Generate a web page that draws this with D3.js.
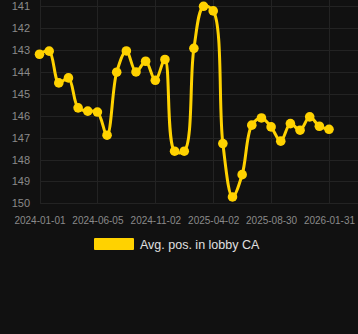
<!DOCTYPE html>
<html>
<head>
<meta charset="utf-8">
<script src="https://cdn.jsdelivr.net/npm/d3@7"></script>
<style>
  html, body { margin: 0; padding: 0; background: #111111; }
  svg { display: block; }
</style>
</head>
<body>
<svg id="chart" width="358" height="334"></svg>
<script>
const dates = [
  "2024-01-01","2024-01-27","2024-02-22","2024-03-19","2024-04-14","2024-05-10",
  "2024-06-05","2024-06-30","2024-07-25","2024-08-19","2024-09-13","2024-10-08",
  "2024-11-02","2024-11-27","2024-12-22","2025-01-16","2025-02-10","2025-03-07",
  "2025-04-02","2025-04-27","2025-05-22","2025-06-16","2025-07-11","2025-08-05",
  "2025-08-30","2025-09-25","2025-10-21","2025-11-16","2025-12-11","2026-01-05",
  "2026-01-31"
];
const positions = [
  143.19, 143.05, 144.5, 144.27, 145.64, 145.79,
  145.83, 146.89, 144.01, 143.04, 144.0, 143.51,
  144.38, 143.43, 147.62, 147.62, 142.92, 141.0,
  141.21, 147.27, 149.71, 148.69, 146.43, 146.1,
  146.51, 147.16, 146.36, 146.66, 146.05, 146.48,
  146.62
];
const xTickLabels = ["2024-01-01","2024-06-05","2024-11-02","2025-04-02","2025-08-30","2026-01-31"];
const yTicks = [141,142,143,144,145,146,147,148,149,150];
const seriesName = "Avg. pos. in lobby CA";

(function () {
const svg = d3.select("#chart");
const W = 358;
const pLeft = 40, pRight = 358, pTop = 6.3, pBottom = 203.3;
const color = "#FFD200";

const x = d3.scalePoint().domain(dates).range([39.5, 329]);
const y = d3.scaleLinear().domain([141, 150]).range([pTop, pBottom]);

svg.append("rect").attr("width", W).attr("height", 334).attr("fill", "#111111");

// horizontal grid
svg.append("g").selectAll("line").data(yTicks).join("line")
  .attr("x1", pLeft).attr("x2", pRight)
  .attr("y1", d => Math.round(y(d)) + 0.5).attr("y2", d => Math.round(y(d)) + 0.5)
  .attr("stroke", "#232323").attr("stroke-width", 1);

// vertical grid
svg.append("g").selectAll("line").data(xTickLabels).join("line")
  .attr("x1", d => Math.round(x(d)) + 0.5).attr("x2", d => Math.round(x(d)) + 0.5)
  .attr("y1", 0).attr("y2", pBottom)
  .attr("stroke", "#232323").attr("stroke-width", 1);

// y axis labels
const yAxis = d3.axisLeft(y).tickValues(yTicks).tickSize(0).tickPadding(0);
const yg = svg.append("g").attr("transform", "translate(30,0)").call(yAxis);
yg.select(".domain").remove();
yg.selectAll("text").attr("fill", "#8a8a8a").attr("font-size", "11px")
  .attr("font-family", "Liberation Sans, Arial, sans-serif");

// x axis labels
const xAxis = d3.axisBottom(x).tickValues(xTickLabels).tickSize(0).tickPadding(0);
const xg = svg.append("g").attr("transform", "translate(0,216.5)").call(xAxis);
xg.select(".domain").remove();
xg.selectAll("text").attr("fill", "#8a8a8a").attr("font-size", "10px")
  .attr("font-family", "Liberation Sans, Arial, sans-serif");

// line
const data = dates.map((d, i) => ({ d, v: positions[i] }));
const line = d3.line().x(p => x(p.d)).y(p => y(p.v)).curve(d3.curveCatmullRom.alpha(0.5));
svg.append("path").datum(data).attr("d", line)
  .attr("fill", "none").attr("stroke", color).attr("stroke-width", 3);

svg.append("g").selectAll("circle").data(data).join("circle")
  .attr("cx", p => x(p.d)).attr("cy", p => y(p.v)).attr("r", 4.8)
  .attr("fill", color);

// legend
svg.append("rect").attr("x", 94).attr("y", 238).attr("width", 40).attr("height", 12)
  .attr("rx", 1).attr("fill", color);
svg.append("text").attr("x", 140).attr("y", 248.5).text(seriesName)
  .attr("fill", "#e0e0e0").attr("font-size", "12.5px")
  .attr("font-family", "Liberation Sans, Arial, sans-serif");
})();
</script>
</body>
</html>
